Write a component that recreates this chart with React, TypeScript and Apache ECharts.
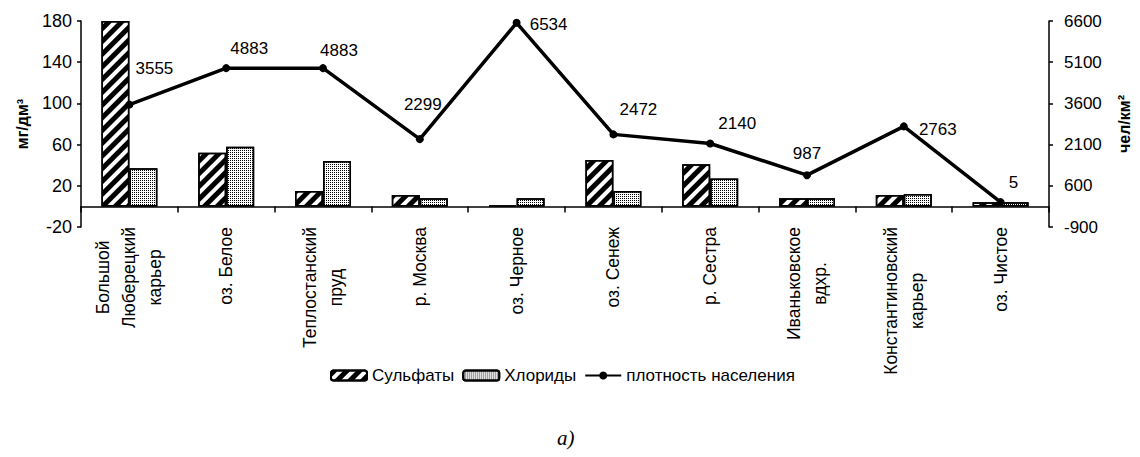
import React, { useEffect, useRef } from 'react';
import * as echarts from 'echarts';

const categories = [
  'Большой\nЛюберецкий\nкарьер',
  'оз. Белое',
  'Теплостанский\nпруд',
  'р. Москва',
  'оз. Черное',
  'оз. Сенеж',
  'р. Сестра',
  'Иваньковское\nвдхр.',
  'Константиновский\nкарьер',
  'оз. Чистое',
];
const sulfates = [180, 52, 15, 11, 1, 45, 41, 8, 11, 4];
const chlorides = [37, 58, 44, 8, 8, 15, 27, 8, 12, 4];
const density = [3555, 4883, 4883, 2299, 6534, 2472, 2140, 987, 2763, 5];
const leftTicks = [-20, 20, 60, 100, 140, 180];
const rightTicks = [-900, 600, 2100, 3600, 5100, 6600];
const labelOffsets: [number, number][] = [
  [25, -36], [23, -20], [16, -18], [3, -35], [32, 2],
  [25, -25], [27, -20], [0, -22], [34, 3], [13, -20],
];

const FONT = '"Liberation Sans", Arial, sans-serif';
const XFONT_SIZE = 17.5;

export default function App() {
  const ref = useRef<HTMLDivElement>(null);
  useEffect(() => {
    if (!ref.current) return;
    const chart = echarts.init(ref.current, undefined, { renderer: 'svg' });

    // centre the lines of each rotated category label inside its own block
    const canvas = document.createElement('canvas');
    const ctx = canvas.getContext('2d')!;
    ctx.font = `${XFONT_SIZE}px "Liberation Sans", Arial, sans-serif`;
    const rich: Record<string, any> = {};
    const formatted: Record<string, string> = {};
    categories.forEach((cat, ci) => {
      const lines = cat.split('\n');
      const widths = lines.map((l) => ctx.measureText(l).width);
      const maxW = Math.max(...widths);
      formatted[cat] = lines
        .map((l, li) => {
          const key = `c${ci}_${li}`;
          const pad = (maxW - widths[li]) / 2;
          rich[key] = {
            fontSize: XFONT_SIZE,
            lineHeight: 26,
            fontFamily: FONT,
            color: '#000',
            padding: [0, pad, 0, 0],
          };
          return `{${key}|${l}}`;
        })
        .join('\n');
    });

    const hatch = {
      symbol: 'rect',
      symbolSize: 1,
      color: '#000',
      backgroundColor: '#fff',
      dashArrayX: [1, 0],
      dashArrayY: [4.5, 3.5],
      rotation: -Math.PI / 4,
    };
    const dots = {
      symbol: 'rect',
      symbolSize: 1,
      color: '#000',
      backgroundColor: '#fff',
      dashArrayX: [1, 1],
      dashArrayY: [1, 1],
      rotation: 0,
    };
    const axisCommon = {
      axisLine: { show: true, lineStyle: { color: '#000', width: 1.5 } },
      axisTick: { show: true, length: 4, lineStyle: { color: '#000', width: 1.5 } },
      splitLine: { show: false },
    };
    chart.setOption({
      animation: false,
      backgroundColor: '#fff',
      textStyle: { fontFamily: FONT, color: '#000' },
      grid: { left: 81, right: 83, top: 21, bottom: 230, containLabel: false },
      legend: {
        top: 362,
        left: 325,
        itemWidth: 36,
        itemHeight: 10,
        itemGap: 8,
        textStyle: { fontFamily: FONT, fontSize: 17, color: '#000' },
        data: [
          { name: 'Сульфаты' },
          { name: 'Хлориды' },
          { name: 'плотность населения' },
        ],
      },
      xAxis: {
        type: 'category',
        data: categories,
        boundaryGap: true,
        axisLine: { show: true, onZero: true, lineStyle: { color: '#000', width: 1.5 } },
        axisTick: { show: true, length: 6, alignWithLabel: false, lineStyle: { color: '#000', width: 1.5 } },
        axisLabel: {
          interval: 0,
          rotate: 90,
          margin: 0,
          formatter: (v: string) => formatted[v] ?? v,
          rich,
        },
      },
      yAxis: [
        {
          type: 'value',
          min: -20,
          max: 180,
          position: 'left',
          name: 'мг/дм³',
          nameLocation: 'middle',
          nameRotate: 90,
          nameGap: 59,
          nameTextStyle: { fontFamily: FONT, fontSize: 16, fontWeight: 'bold', color: '#000', verticalAlign: 'middle' },
          ...axisCommon,
          axisTick: { ...axisCommon.axisTick, customValues: leftTicks },
          axisLabel: { customValues: leftTicks, fontSize: 18, margin: 9, color: '#000', fontFamily: FONT, formatter: (v: number) => String(v) },
        },
        {
          type: 'value',
          min: -900,
          max: 6600,
          position: 'right',
          name: 'чел/км²',
          nameLocation: 'middle',
          nameRotate: 90,
          nameGap: 75,
          nameTextStyle: { fontFamily: FONT, fontSize: 16, fontWeight: 'bold', color: '#000', verticalAlign: 'middle' },
          ...axisCommon,
          axisTick: { ...axisCommon.axisTick, customValues: rightTicks },
          axisLabel: { customValues: rightTicks, fontSize: 17, margin: 15, color: '#000', fontFamily: FONT, formatter: (v: number) => String(v) },
        },
      ],
      series: [
        {
          name: 'Сульфаты',
          type: 'bar',
          data: sulfates,
          barWidth: 28,
          barGap: '0%',
          itemStyle: { color: '#fff', borderColor: '#000', borderWidth: 1.5, decal: hatch },
        },
        {
          name: 'Хлориды',
          type: 'bar',
          data: chlorides,
          barWidth: 28,
          barGap: '0%',
          itemStyle: { color: '#fff', borderColor: '#000', borderWidth: 1.5, decal: dots },
        },
        {
          name: 'плотность населения',
          type: 'line',
          yAxisIndex: 1,
          data: density.map((v, i) => ({
            value: v,
            label: { show: true, position: 'inside', offset: labelOffsets[i] },
          })),
          symbol: 'circle',
          symbolSize: 8,
          z: 5,
          lineStyle: { color: '#000', width: 3.5 },
          itemStyle: { color: '#000' },
          label: { show: true, fontSize: 17, fontFamily: FONT, color: '#000' },
        },
      ],
      graphic: [
        {
          type: 'text',
          left: 557,
          top: 427,
          style: { text: 'a)', font: 'italic 21px "Liberation Serif", "Times New Roman", serif', fill: '#000' },
        },
      ],
    });
    return () => chart.dispose();
  }, []);
  return (
    <div
      ref={ref}
      style={{ position: 'fixed', left: 0, top: 0, width: 1140, height: 457 }}
    />
  );
}
